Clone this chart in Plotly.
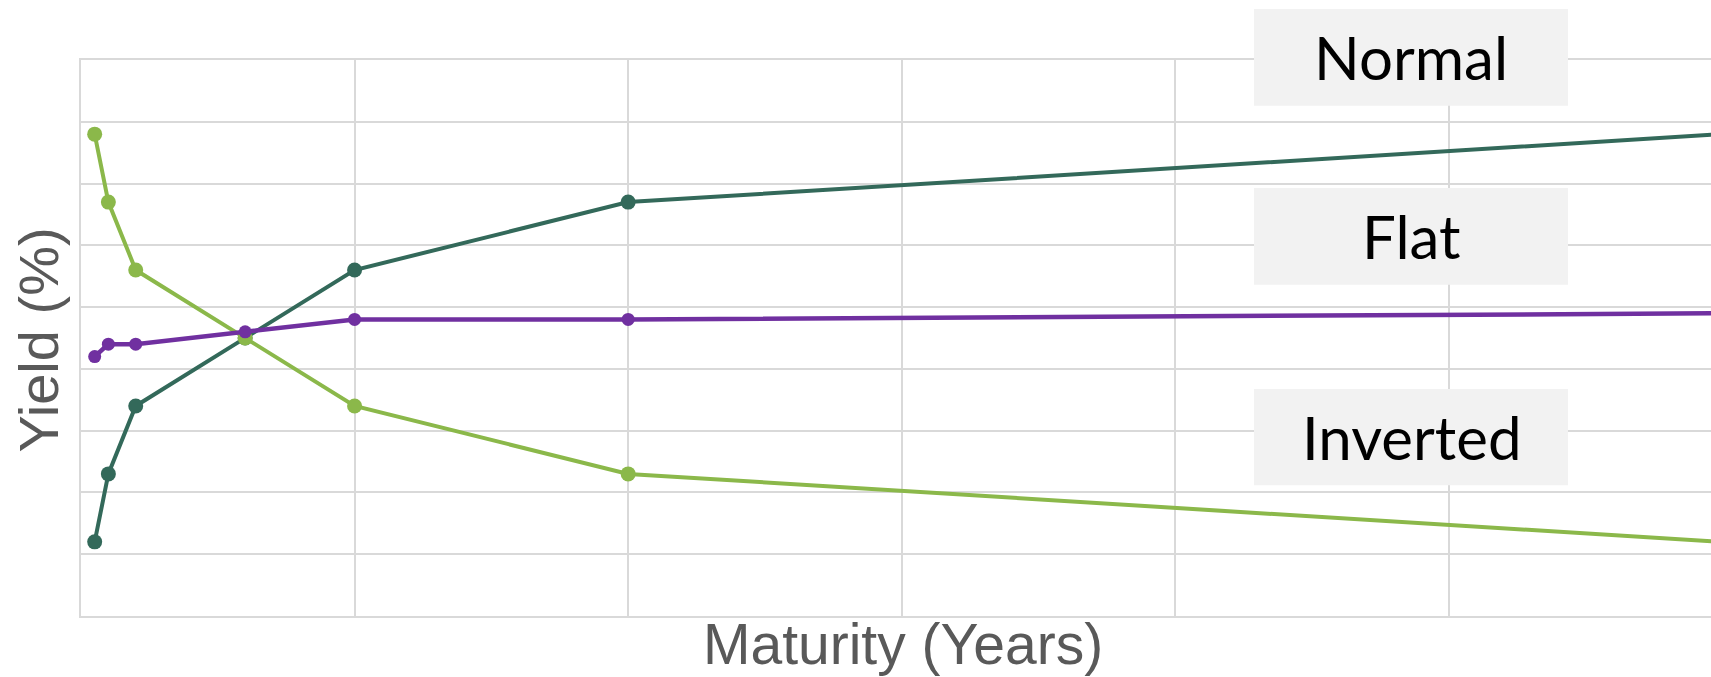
import plotly.graph_objects as go

# Maturities in years and yields (%) for the three yield-curve shapes
maturity = [0.25, 0.5, 1, 3, 5, 10, 30]
normal_yield = [1.2, 2.3, 3.4, 4.5, 5.6, 6.7, 7.8]
inverted_yield = [7.8, 6.7, 5.6, 4.5, 3.4, 2.3, 1.2]
flat_yield = [4.2, 4.4, 4.4, 4.6, 4.8, 4.8, 4.9]

curve_names = ["Normal", "Flat", "Inverted"]

DARK_GREEN = "#33695A"
LIGHT_GREEN = "#8BB84A"
PURPLE = "#7030A0"
GRID = "#D9D9D9"
TITLE_GREY = "#595959"

W, H = 1711, 677
ML, MR, MT, MB = 81, 0, 60, 61
plot_w = W - ML - MR
plot_h = H - MT - MB


def px_x(p):
    return (p - ML) / plot_w


def px_y(p):
    return (H - MB - p) / plot_h


fig = go.Figure()
fig.add_trace(go.Scatter(
    x=maturity, y=normal_yield, name="Normal", mode="lines+markers",
    line=dict(color=DARK_GREEN, width=4), marker=dict(color=DARK_GREEN, size=15),
))
fig.add_trace(go.Scatter(
    x=maturity, y=inverted_yield, name="Inverted", mode="lines+markers",
    line=dict(color=LIGHT_GREEN, width=4), marker=dict(color=LIGHT_GREEN, size=15),
))
fig.add_trace(go.Scatter(
    x=maturity, y=flat_yield, name="Flat", mode="lines+markers",
    line=dict(color=PURPLE, width=4.5), marker=dict(color=PURPLE, size=13),
))

# Label boxes (pixel extents: top, bottom) for each curve name
box_rows = {"Normal": (9, 105.7), "Flat": (188, 284.7), "Inverted": (389, 485.3)}
bx0, bx1 = px_x(1254), px_x(1568)
for name in curve_names:
    top, bottom = box_rows[name]
    fig.add_shape(type="rect", xref="paper", yref="paper",
                  x0=bx0, x1=bx1, y0=px_y(bottom), y1=px_y(top),
                  fillcolor="#F2F2F2", line=dict(width=0), layer="above")
    fig.add_annotation(text=name, xref="paper", yref="paper",
                       x=(bx0 + bx1) / 2, y=px_y((top + bottom) / 2),
                       xanchor="center", yanchor="middle", showarrow=False,
                       font=dict(family="Lato", size=60, color="#000000"))

# Axis titles
fig.add_annotation(text="Maturity (Years)", xref="paper", yref="paper",
                   x=px_x(903), y=px_y(644), xanchor="center", yanchor="middle",
                   borderpad=0, showarrow=False,
                   font=dict(family="Liberation Sans", size=57, color=TITLE_GREY))
fig.add_annotation(text="Yield (%)", xref="paper", yref="paper",
                   x=px_x(37.5), y=px_y(340), xanchor="center", yanchor="middle",
                   textangle=-90, showarrow=False,
                   font=dict(family="Liberation Sans", size=56, color=TITLE_GREY))

axis_style = dict(showgrid=True, gridcolor=GRID, gridwidth=2, showticklabels=False,
                  zeroline=False, ticks="", showline=True, linecolor=GRID, linewidth=2)

fig.update_layout(
    width=W, height=H,
    margin=dict(l=ML, r=MR, t=MT, b=MB, pad=0),
    paper_bgcolor="white", plot_bgcolor="white",
    showlegend=False,
    xaxis=dict(range=[0, 29.79], dtick=5, tick0=0, mirror=True, **axis_style),
    yaxis=dict(range=[0, 9], dtick=1, tick0=0, **axis_style),
)

fig.write_html("out.html", config={"displayModeBar": False})
